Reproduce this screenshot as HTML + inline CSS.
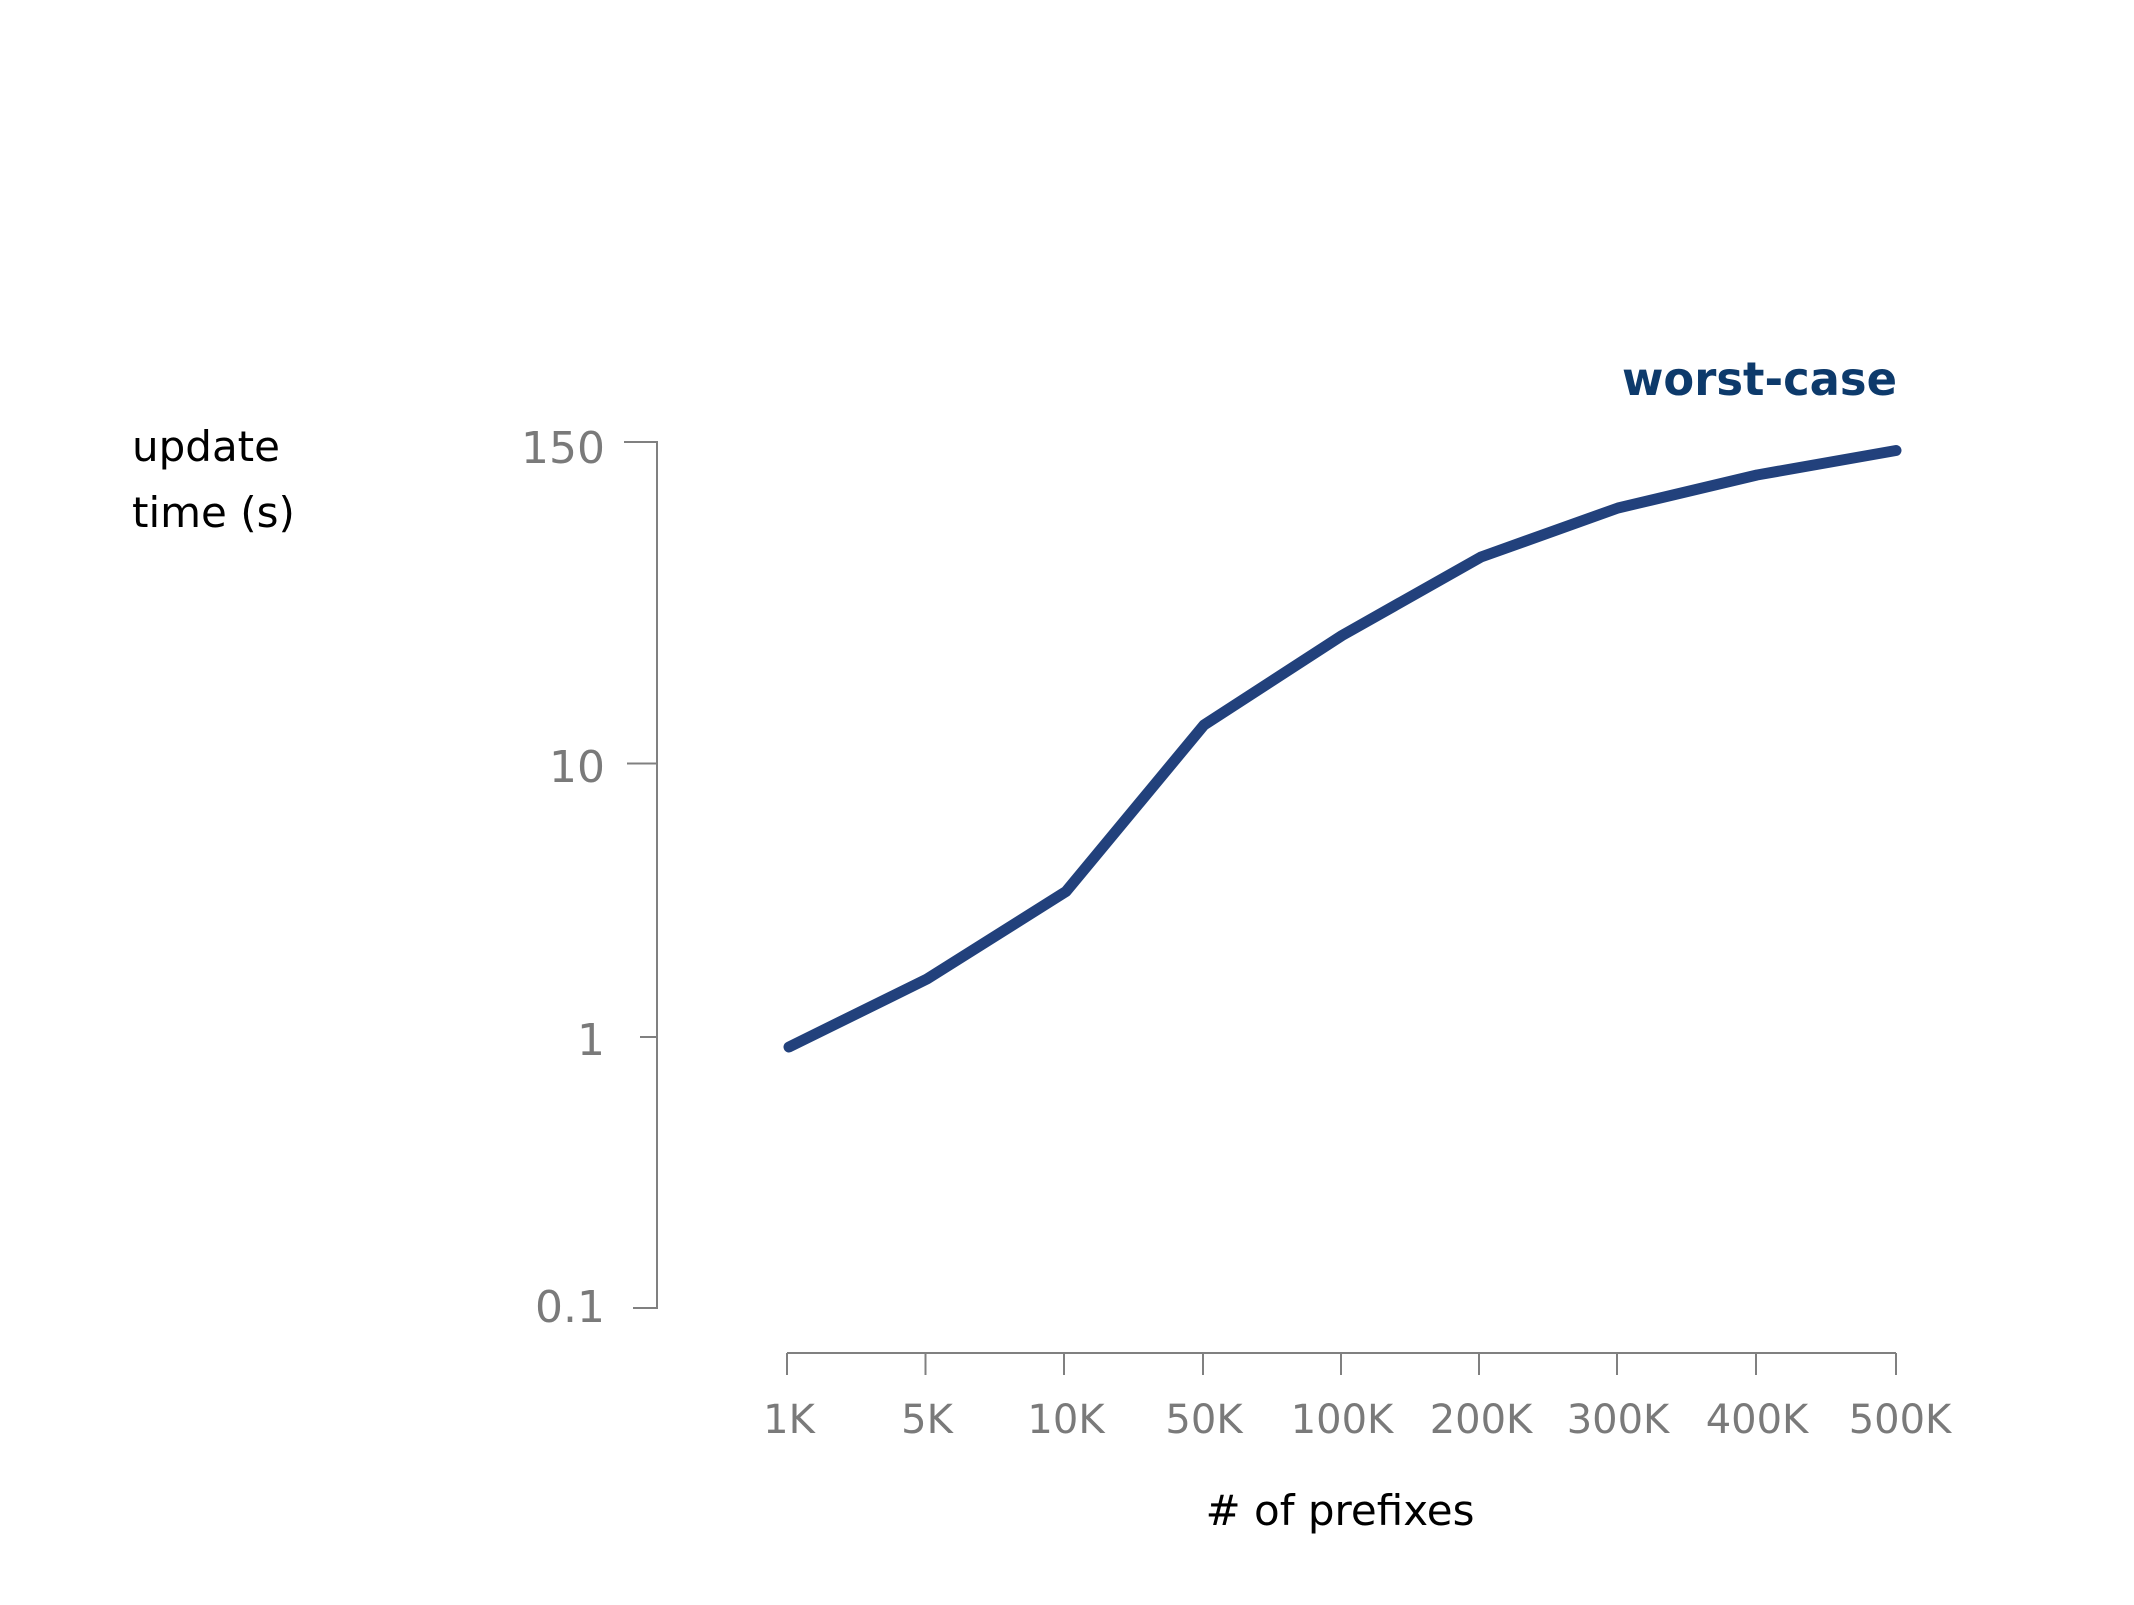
<!DOCTYPE html>
<html><head><meta charset="utf-8"><style>html,body{margin:0;padding:0;background:#fff}</style></head>
<body>
<svg width="2134" height="1600" xmlns="http://www.w3.org/2000/svg" font-family="'DejaVu Sans','Liberation Sans',sans-serif">
<g stroke="#808080" stroke-width="2" fill="none">
<polyline points="624,442 657,442 657,1308 633,1308"/>
<line x1="627" y1="763.5" x2="657" y2="763.5"/>
<line x1="640" y1="1037" x2="657" y2="1037"/>
<line x1="787" y1="1353" x2="1896" y2="1353"/>
<g>
<line x1="787" y1="1353" x2="787" y2="1375"/><line x1="925.5" y1="1353" x2="925.5" y2="1375"/>
<line x1="1064" y1="1353" x2="1064" y2="1375"/><line x1="1203" y1="1353" x2="1203" y2="1375"/>
<line x1="1341" y1="1353" x2="1341" y2="1375"/><line x1="1479" y1="1353" x2="1479" y2="1375"/>
<line x1="1617" y1="1353" x2="1617" y2="1375"/><line x1="1756" y1="1353" x2="1756" y2="1375"/>
<line x1="1896" y1="1353" x2="1896" y2="1375"/>
</g></g>
<g fill="#7a7a7a" font-size="44" text-anchor="end">
<text x="605" y="463">150</text><text x="605" y="782">10</text><text x="605" y="1055">1</text><text x="605" y="1322">0.1</text>
</g>
<g fill="#7a7a7a" font-size="40" text-anchor="middle">
<text x="789" y="1433">1K</text><text x="927" y="1433">5K</text><text x="1066" y="1433">10K</text>
<text x="1204" y="1433">50K</text><text x="1342" y="1433">100K</text><text x="1481" y="1433">200K</text>
<text x="1618" y="1433">300K</text><text x="1757" y="1433">400K</text><text x="1900" y="1433">500K</text>
</g>
<g fill="#000" font-size="42">
<text x="132" y="461">update</text><text x="132" y="527">time (s)</text>
<text x="1340" y="1525" text-anchor="middle"># of prefixes</text>
</g>
<text x="1897" y="395" text-anchor="end" font-size="46" font-weight="bold" fill="#0d3a6b" textLength="275" lengthAdjust="spacingAndGlyphs">worst-case</text>
<polyline fill="none" stroke="#22417c" stroke-width="11" stroke-linecap="round" stroke-linejoin="round"
points="789,1047 927,979 1066,891.5 1204,725 1342,635.5 1481,557 1618,508 1757,475 1896,450.5"/>
</svg>
</body></html>
